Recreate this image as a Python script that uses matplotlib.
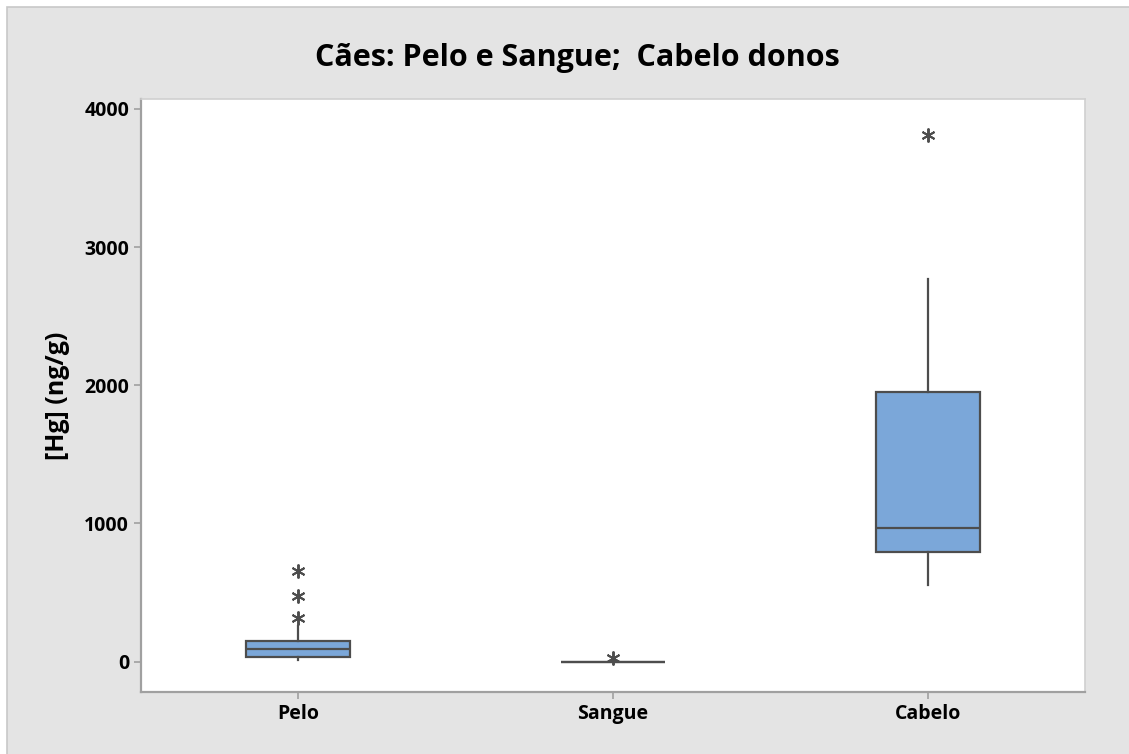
import matplotlib.pyplot as plt
from matplotlib.patches import Rectangle
from matplotlib.markers import MarkerStyle

plt.rcParams['font.family'] = ['Open Sans', 'DejaVu Sans']

categories = ["Pelo", "Sangue", "Cabelo"]
# box summaries in ng/g: lower whisker, Q1, median, Q3, upper whisker
whislo = [8, -3, 551]
q1 = [36, -3, 790]
med = [94, -3, 964]
q3 = [152, 0, 1949]
whishi = [261, 0, 2768]
outliers = [[319, 478, 659], [25], [3812]]

yticks = [0, 1000, 2000, 3000, 4000]

stats = []
for i, name in enumerate(categories):
    stats.append(dict(label=name, whislo=whislo[i], q1=q1[i], med=med[i],
                      q3=q3[i], whishi=whishi[i], fliers=outliers[i]))

fig = plt.figure(figsize=(11.29, 7.54), dpi=100)
fig.patch.set_facecolor("white")
fig.patches.append(Rectangle((7 / 1129, -0.01), 1.02, 1 - 7 / 754 + 0.01,
                             transform=fig.transFigure, facecolor="#e4e4e4",
                             edgecolor="#c8c8c8", linewidth=1.2, zorder=-5))

ax = fig.add_axes([141 / 1129, 1 - 692 / 754, (1085 - 141) / 1129, (692 - 99) / 754])
ax.set_facecolor("white")

edge = "#4d4d4d"
star = MarkerStyle((6, 2, 0))
ax.bxp(stats, positions=[1, 2, 3], widths=0.33, patch_artist=True,
       showcaps=False,
       boxprops=dict(facecolor="#7ba7d9", edgecolor=edge, linewidth=1.6),
       medianprops=dict(color=edge, linewidth=1.6),
       whiskerprops=dict(color=edge, linewidth=1.6),
       flierprops=dict(marker=star, markersize=10, markeredgecolor=edge,
                       markerfacecolor=edge, markeredgewidth=1.4))

ax.set_xlim(0.5, 3.5)
ax.set_ylim(-220, 4072)
ax.set_yticks(yticks)
ax.set_yticklabels([str(v) for v in yticks])
ax.set_xticks([1, 2, 3])
ax.set_xticklabels(categories)

for s in ["top", "right"]:
    ax.spines[s].set_color("#d0d0d0")
    ax.spines[s].set_linewidth(1.2)
for s in ["left", "bottom"]:
    ax.spines[s].set_color("#a0a0a0")
    ax.spines[s].set_linewidth(1.6)

ax.tick_params(axis="both", colors="#a0a0a0", length=5, width=1.2,
               labelcolor="black", labelsize=14)
for lbl in ax.get_xticklabels():
    lbl.set_fontweight("bold")
for lbl in ax.get_yticklabels():
    lbl.set_fontweight("bold")

ax.set_ylabel("[Hg] (ng/g)", fontsize=18, fontweight="bold", labelpad=10)
fig.text(577 / 1129, 1 - 58 / 754, "Cães: Pelo e Sangue;  Cabelo donos",
         ha="center", va="center", fontsize=22, fontweight="bold")

fig.savefig("out.png", dpi=100)
